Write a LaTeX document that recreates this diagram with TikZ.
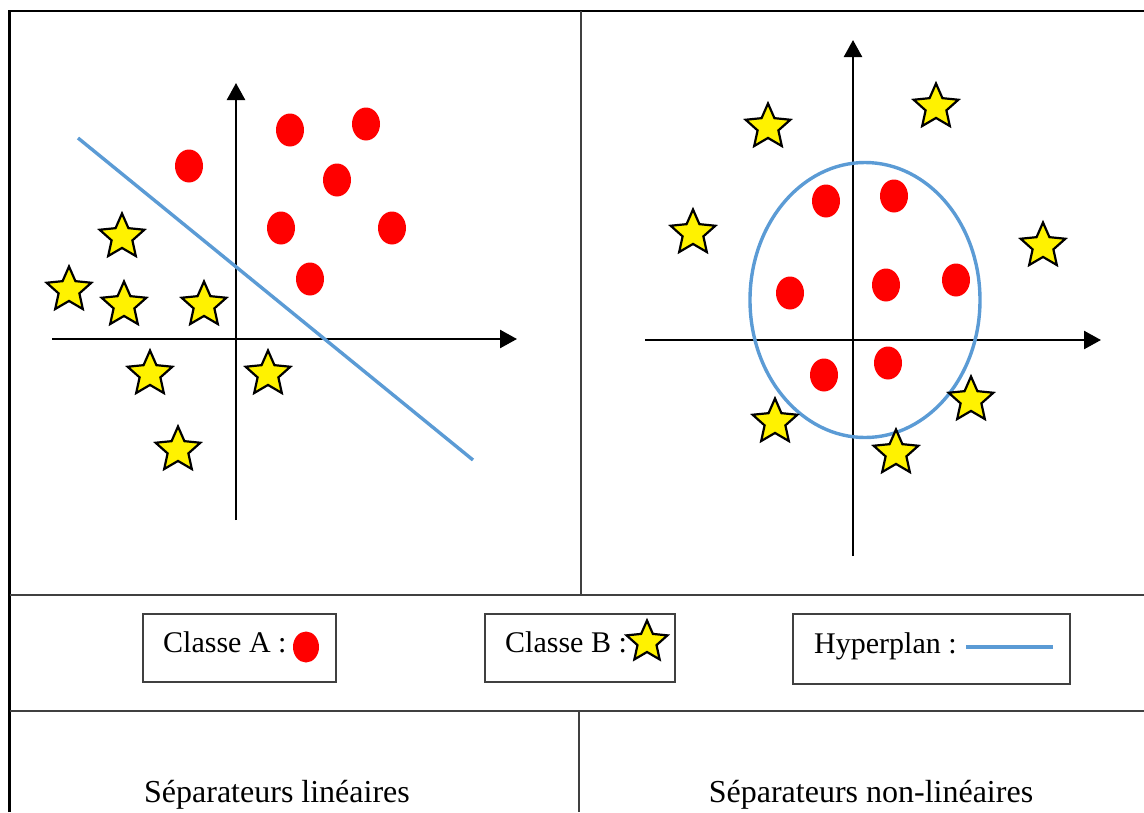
\documentclass[tikz,border=0pt]{standalone}
\usepackage{fontspec}
\setmainfont{Liberation Serif}
\usepackage{xcolor}
\usepackage{tikz}
\usetikzlibrary{positioning,arrows.meta,shapes.geometric}
\definecolor{svmblue}{RGB}{91,155,213}
\tikzset{
    svmframe/.style={draw=black, line width=2.8pt},
    svmsep/.style={draw=black!75, line width=1.4pt},
    svmaxis/.style={draw, line width=2.5pt, -{Triangle[length=17pt, width=18pt]}},
    svmhyper/.style={draw=svmblue, line width=3.4pt},
    svmdot/.style={ellipse, fill=red, inner sep=0pt, minimum width=28pt, minimum height=33pt},
    svmstar/.style={star, star points=5, star point ratio=2.15, draw=black, line width=2.2pt, fill=yellow, inner sep=0pt, minimum size=47pt},
    svmlegend/.style={draw=black!75, line width=1.2pt, minimum height=68pt},
    svmlabel/.style={inner sep=0pt, font=\fontsize{30}{36}\selectfont},
    svmtitle/.style={inner sep=0pt, font=\fontsize{32}{38}\selectfont}
}

\begin{document}
\begin{tikzpicture}[x=1pt, y=-1pt]
    \useasboundingbox (0,0) rectangle (1144,812);

    % cadre et cases
    \draw[svmframe] (9.5,812) -- (9.5,11) -- (1144,11);
    \draw[svmsep] (9.5,595) -- (1144,595);
    \draw[svmsep] (9.5,711) -- (1144,711);
    \draw[svmsep] (581,11) -- (581,595);
    \draw[svmsep] (579,711) -- (579,812);

    % separateur lineaire
    \coordinate (lx0) at (52,339);
    \coordinate (lx1) at (517,339);
    \coordinate (ly0) at (236,520);
    \coordinate (ly1) at (236,83);
    \draw[svmaxis] (lx0) -- (lx1);
    \draw[svmaxis] (ly0) -- (ly1);
    \coordinate (hypA) at (78,138);
    \coordinate (hypB) at (473,460);
    \draw[svmhyper] (hypA) -- (hypB);

    \node[svmdot] (la1) at (290,130) {};
    \node[svmdot] (la2) at (366,124) {};
    \node[svmdot] (la3) at (189,166) {};
    \node[svmdot] (la4) at (337,180) {};
    \node[svmdot] (la5) at (281,228) {};
    \node[svmdot] (la6) at (392,228) {};
    \node[svmdot] (la7) at (310,279) {};

    \node[svmstar] (lb1) at (122,237) {};
    \node[svmstar] (lb2) at (69,290) {};
    \node[svmstar] (lb3) at (124,305) {};
    \node[svmstar] (lb4) at (204,305) {};
    \node[svmstar] (lb5) at (150,374) {};
    \node[svmstar] (lb6) at (268,374) {};
    \node[svmstar] (lb7) at (178,450) {};

    % separateur non lineaire
    \coordinate (rx0) at (645,340);
    \coordinate (rx1) at (1101,340);
    \coordinate (ry0) at (853,556);
    \coordinate (ry1) at (853,40);
    \draw[svmaxis] (rx0) -- (rx1);
    \draw[svmaxis] (ry0) -- (ry1);
    \node[svmhyper, ellipse, minimum width=230pt, minimum height=275pt] (hyperR) at (865,300) {};

    \node[svmdot] (ra1) at (826,201) {};
    \node[svmdot] (ra2) at (894,196) {};
    \node[svmdot] (ra3) at (790,293) {};
    \node[svmdot] (ra4) at (886,285) {};
    \node[svmdot] (ra5) at (956,280) {};
    \node[svmdot] (ra6) at (824,375) {};
    \node[svmdot] (ra7) at (888,363) {};

    \node[svmstar] (rb1) at (768,127) {};
    \node[svmstar] (rb2) at (936,107) {};
    \node[svmstar] (rb3) at (693,233) {};
    \node[svmstar] (rb4) at (1043,246) {};
    \node[svmstar] (rb5) at (775,422) {};
    \node[svmstar] (rb6) at (971,400) {};
    \node[svmstar] (rb7) at (896,453) {};

    % legende
    \node[svmlegend, minimum width=193pt] (legA) at (239.5,648) {};
    \node[svmlegend, minimum width=190pt] (legB) at (580,648) {};
    \node[svmlegend, minimum width=277pt, minimum height=70pt] (legH) at (931.5,649) {};
    \node[svmlabel, anchor=base west] (txtA) at (163,652) {Classe A :};
    \node[svmdot, minimum width=26pt, minimum height=31pt] (keyA) at (306,647) {};
    \node[svmlabel, anchor=base west] (txtB) at (505,652) {Classe B :};
    \node[svmstar, minimum size=43pt] (keyB) at (647,642) {};
    \node[svmlabel, anchor=base west] (txtH) at (814,653) {Hyperplan :};
    \coordinate (keyH0) at (966,647);
    \coordinate (keyH1) at (1053,647);
    \draw[svmhyper, line width=4pt] (keyH0) -- (keyH1);

    % titres
    \node[svmtitle, anchor=base] (titleL) at (277,802) {Séparateurs linéaires};
    \node[svmtitle, anchor=base] (titleR) at (871,802) {Séparateurs non-linéaires};
\end{tikzpicture}
\end{document}
